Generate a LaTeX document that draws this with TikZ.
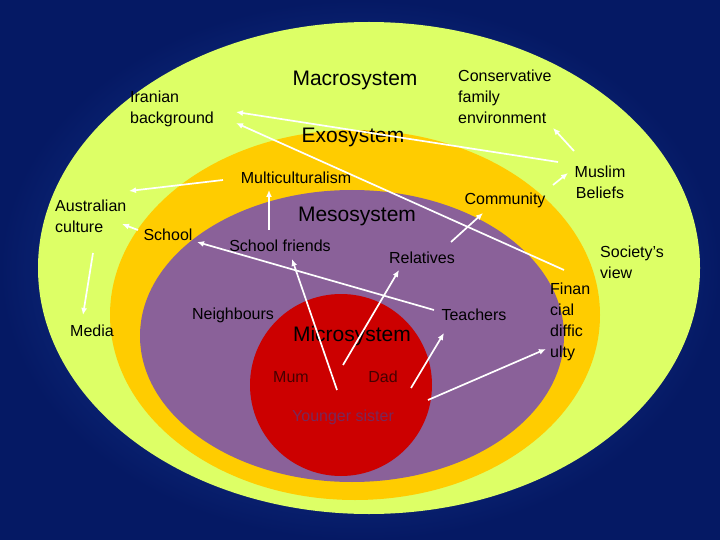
\documentclass[tikz,border=0pt]{standalone}
\usepackage{fontspec}
\setmainfont{Liberation Sans}
\usetikzlibrary{arrows.meta}
\begin{document}
\begin{tikzpicture}[x=1pt,y=-1pt,
 lbl/.style={font=\fontsize{16}{21}\selectfont,inner sep=0pt,align=left},
 ttl/.style={font=\fontsize{21}{24}\selectfont,inner sep=0pt},
 arr/.style={draw=white,line width=1.7pt,-{Latex[length=7pt,width=6pt]}}]
\useasboundingbox (0,0) rectangle (720,540);
\shade[inner color={rgb,255:red,35;green,80;blue,180},outer color={rgb,255:red,5;green,25;blue,100}] (0,0) rectangle (720,540);
\fill[fill={rgb,255:red,221;green,255;blue,102}] (369,268) ellipse [x radius=331,y radius=246];
\fill[fill={rgb,255:red,255;green,204;blue,0}] (355,315) ellipse [x radius=245,y radius=185];
\fill[fill={rgb,255:red,138;green,97;blue,153}] (352,336) ellipse [x radius=212,y radius=146];
\fill[fill={rgb,255:red,204;green,0;blue,0}] (341,385) circle [radius=91];
\node[ttl] (macro) at (355,80) {Macrosystem};
\node[ttl] (exo) at (353,137) {Exosystem};
\node[ttl] (meso) at (357,216) {Mesosystem};
\node[ttl] (micro) at (352,336) {Microsystem};
\node[lbl,anchor=west] (iran) at (130,109) {Iranian\\background};
\node[lbl,anchor=west] (cons) at (458,97) {Conservative\\family\\environment};
\node[lbl] (multi) at (296,178) {Multiculturalism};
\node[lbl,align=center] (muslim) at (600,182) {Muslim\\Beliefs};
\node[lbl] (comm) at (505,200) {Community};
\node[lbl,anchor=west] (aus) at (55,216) {Australian\\culture};
\node[lbl] (school) at (168,235) {School};
\node[lbl] (sfr) at (280,246) {School friends};
\node[lbl] (rel) at (422,258) {Relatives};
\node[lbl,anchor=west] (soc) at (600,262) {Society’s\\view};
\node[lbl,anchor=west,font=\fontsize{16}{21}\selectfont] (fin) at (550,322) {Finan\\cial\\diffic\\ulty};
\node[lbl] (neigh) at (233,315) {Neighbours};
\node[lbl] (teach) at (474,315) {Teachers};
\node[lbl] (media) at (92,331) {Media};
\node[lbl,text={rgb,255:red,70;green,0;blue,0}] (mum) at (291,377) {Mum};
\node[lbl,text={rgb,255:red,70;green,0;blue,0}] (dad) at (383,377) {Dad};
\node[lbl,text={rgb,255:red,120;green,40;blue,90}] (ys) at (343,417) {Younger sister};
\coordinate (s1) at (558,162); \coordinate (e1) at (236,112);
\coordinate (s2) at (564,270); \coordinate (e2) at (236,123);
\coordinate (s3) at (574,151); \coordinate (e3) at (553,128);
\coordinate (s4) at (553,185); \coordinate (e4) at (568,173);
\coordinate (s5) at (223,180); \coordinate (e5) at (129,191);
\coordinate (s6) at (269,230); \coordinate (e6) at (269,190);
\coordinate (s7) at (138,230); \coordinate (e7) at (122,224);
\coordinate (s8) at (93,253);  \coordinate (e8) at (83,315);
\coordinate (s9) at (434,310); \coordinate (e9) at (197,242);
\coordinate (s10) at (337,390); \coordinate (e10) at (292,259);
\coordinate (s11) at (343,365); \coordinate (e11) at (399,270);
\coordinate (s12) at (451,242); \coordinate (e12) at (483,213);
\coordinate (s13) at (411,388); \coordinate (e13) at (444,333);
\coordinate (s14) at (428,400); \coordinate (e14) at (546,349);
\foreach \i in {1,...,14} \draw[arr] (s\i) -- (e\i);
\end{tikzpicture}
\end{document}
